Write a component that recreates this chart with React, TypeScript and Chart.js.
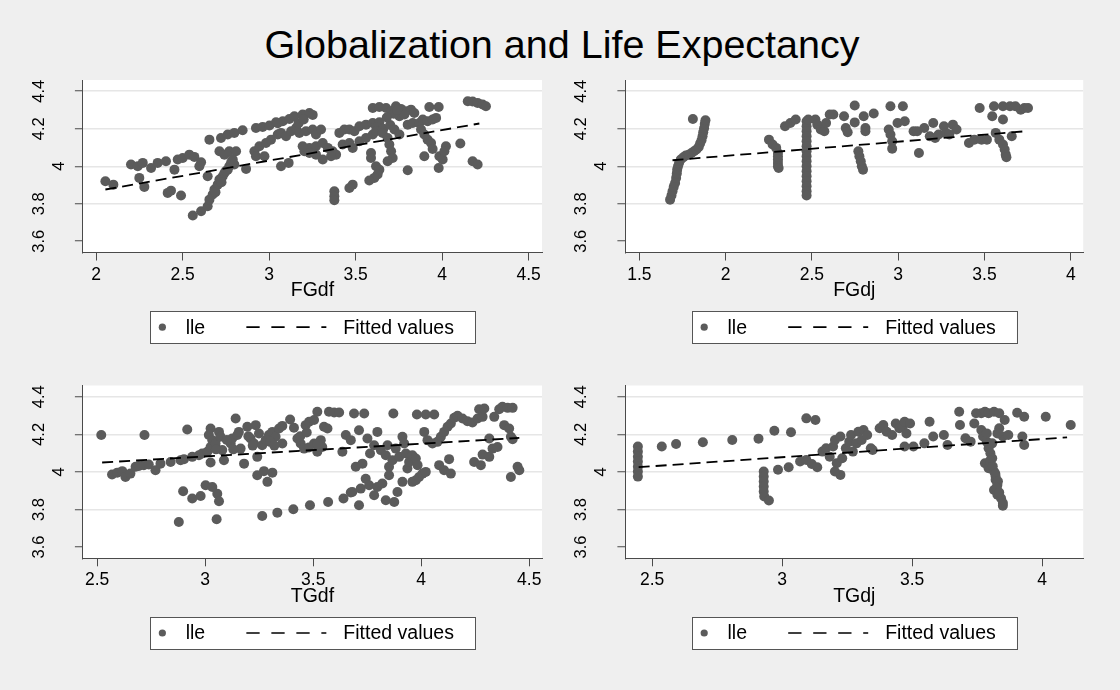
import React, { useEffect, useRef } from 'react';
import { Chart, registerables } from 'chart.js';

Chart.register(...registerables);

const FONT = "'Liberation Sans', Arial, Helvetica, sans-serif";
const PAGE_W = 1120;
const PAGE_H = 690;
const Y_AXIS_W = 60;
const X_AXIS_H = 60;
const MARKER = '#5b5b5b';
const AXIS_COLOR = '#4a4a4a';
const GRID_COLOR = '#e6e6e6';

const chartTitle = 'Globalization and Life Expectancy';
const seriesLabel = 'lle';
const fitLabel = 'Fitted values';

// lle vs FGdf
const fgdfPoints: [number, number][] = [
  [2.054, 3.92], [2.1, 3.902], [2.202, 4.009], [2.241, 4.0], [2.27, 4.018], [2.25, 3.938], [2.279, 3.89],
  [2.318, 3.991], [2.356, 4.018], [2.404, 4.027], [2.453, 3.982], [2.472, 4.036], [2.501, 4.044], [2.539, 4.062],
  [2.568, 4.05], [2.414, 3.858], [2.433, 3.87], [2.491, 3.844], [2.607, 4.021], [2.597, 4.0], [2.645, 3.947],
  [2.655, 4.142], [2.722, 4.151], [2.761, 4.169], [2.799, 4.178], [2.847, 4.192], [2.713, 4.08], [2.742, 4.062],
  [2.77, 4.08], [2.809, 4.08], [2.867, 3.986],
  [2.559, 3.737], [2.607, 3.76], [2.645, 3.787], [2.655, 3.822], [2.674, 3.849], [2.684, 3.876], [2.703, 3.902],
  [2.713, 3.929], [2.732, 3.947], [2.742, 3.964], [2.761, 3.982], [2.77, 4.0], [2.78, 4.018], [2.79, 4.036],
  [2.799, 4.009], [2.69, 3.862], [2.725, 3.915], [2.75, 3.975],
  [2.924, 4.204], [2.963, 4.21], [3.002, 4.217], [3.04, 4.235], [3.079, 4.24], [3.117, 4.252], [3.146, 4.267],
  [3.194, 4.276], [3.233, 4.284], [3.252, 4.274],
  [2.915, 4.08], [2.944, 4.107], [2.982, 4.124], [3.011, 4.142], [3.05, 4.169], [3.069, 4.178], [3.098, 4.16],
  [3.127, 4.187], [3.156, 4.204], [3.175, 4.178], [3.213, 4.187], [3.252, 4.196], [3.271, 4.169], [3.3, 4.196],
  [2.924, 4.053], [2.973, 4.053], [3.069, 4.0], [3.113, 4.018],
  [3.204, 4.08], [3.233, 4.098], [3.271, 4.107], [3.31, 4.124], [3.339, 4.098], [3.367, 4.08], [3.387, 4.062],
  [3.358, 4.053], [3.31, 4.036], [3.271, 4.062], [3.233, 4.071], [3.194, 4.107], [3.05, 4.23], [3.17, 4.23], [3.2, 4.25],
  [3.406, 4.178], [3.435, 4.196], [3.464, 4.196], [3.493, 4.187], [3.522, 4.213], [3.56, 4.222], [3.599, 4.231],
  [3.637, 4.235], [3.62, 4.21], [3.66, 4.2], [3.7, 4.22],
  [3.425, 4.116], [3.464, 4.124], [3.483, 4.098], [3.522, 4.133], [3.56, 4.151], [3.599, 4.169], [3.618, 4.187],
  [3.656, 4.178], [3.685, 4.151], [3.695, 4.116], [3.705, 4.08], [3.714, 4.044], [3.685, 4.027], [3.589, 4.071],
  [3.589, 4.044],
  [3.599, 4.311], [3.637, 4.316], [3.676, 4.311], [3.705, 4.293], [3.733, 4.32], [3.762, 4.306], [3.791, 4.293],
  [3.82, 4.302], [3.839, 4.284], [3.753, 4.267], [3.782, 4.276], [3.801, 4.222], [3.83, 4.231], [3.724, 4.196],
  [3.753, 4.169], [3.72, 4.28], [3.74, 4.3], [3.68, 4.26],
  [3.618, 4.0], [3.637, 3.982], [3.627, 3.956], [3.608, 3.938], [3.579, 3.924], [3.483, 3.902], [3.464, 3.884],
  [3.377, 3.867], [3.377, 3.84], [3.377, 3.819], [3.801, 3.979],
  [3.868, 4.231], [3.888, 4.249], [3.916, 4.24], [3.945, 4.249], [3.965, 4.258], [3.926, 4.316], [3.98, 4.316],
  [3.878, 4.196], [3.897, 4.169], [3.916, 4.142], [3.936, 4.124], [3.945, 4.092], [3.897, 4.053], [3.984, 4.053],
  [4.003, 4.036], [4.022, 4.107], [4.013, 4.08], [3.98, 3.991], [4.105, 4.121],
  [4.148, 4.347], [4.176, 4.345], [4.205, 4.338], [4.234, 4.329], [4.253, 4.32], [4.176, 4.027], [4.205, 4.009],
];
const fgdfFit: [number, number][] = [[2.054, 3.876], [4.215, 4.228]];

// lle vs FGdj
const fgdjPoints: [number, number][] = [
  [1.678, 3.822], [1.686, 3.844], [1.692, 3.867], [1.699, 3.89], [1.707, 3.911], [1.713, 3.938], [1.717, 3.961],
  [1.719, 3.982], [1.724, 4.0], [1.73, 4.018], [1.74, 4.036], [1.755, 4.048], [1.769, 4.057], [1.786, 4.062],
  [1.802, 4.071], [1.817, 4.08], [1.831, 4.089], [1.844, 4.103], [1.852, 4.121], [1.86, 4.139], [1.866, 4.16],
  [1.87, 4.181], [1.875, 4.203], [1.879, 4.226], [1.883, 4.245], [1.81, 4.252],
  [2.251, 4.142], [2.272, 4.116], [2.293, 4.098], [2.303, 4.071], [2.303, 4.053], [2.303, 4.036], [2.303, 4.018],
  [2.303, 4.0], [2.307, 3.991], [2.344, 4.213], [2.375, 4.231], [2.406, 4.249],
  [2.469, 4.24], [2.469, 4.213], [2.469, 4.187], [2.469, 4.16], [2.469, 4.133], [2.469, 4.107], [2.469, 4.08],
  [2.469, 4.053], [2.469, 4.027], [2.469, 4.0], [2.469, 3.973], [2.469, 3.947], [2.469, 3.92], [2.469, 3.893],
  [2.469, 3.867], [2.469, 3.844],
  [2.479, 4.249], [2.52, 4.249], [2.531, 4.222], [2.551, 4.196], [2.572, 4.187], [2.582, 4.231], [2.603, 4.276],
  [2.624, 4.276], [2.686, 4.267], [2.696, 4.204], [2.707, 4.181], [2.748, 4.324], [2.748, 4.234], [2.8, 4.267],
  [2.81, 4.204], [2.81, 4.187], [2.858, 4.281],
  [2.769, 4.08], [2.775, 4.053], [2.783, 4.027], [2.789, 4.0], [2.796, 3.982],
  [2.955, 4.32], [3.027, 4.32], [2.945, 4.196], [2.955, 4.169], [2.965, 4.133], [2.965, 4.094], [2.996, 4.231],
  [3.038, 4.24],
  [3.089, 4.187], [3.11, 4.187], [3.12, 4.071], [3.151, 4.204], [3.183, 4.16], [3.203, 4.231], [3.214, 4.151],
  [3.234, 4.169], [3.265, 4.213], [3.276, 4.178], [3.296, 4.169], [3.317, 4.222], [3.338, 4.196],
  [3.41, 4.124], [3.441, 4.142], [3.472, 4.311], [3.483, 4.142], [3.514, 4.142], [3.555, 4.32], [3.545, 4.267],
  [3.565, 4.178], [3.586, 4.142], [3.607, 4.116], [3.617, 4.089], [3.623, 4.062], [3.627, 4.048], [3.607, 4.249],
  [3.658, 4.16],
  [3.607, 4.32], [3.648, 4.32], [3.679, 4.32], [3.71, 4.302], [3.731, 4.311], [3.752, 4.311],
];
const fgdjFit: [number, number][] = [[1.692, 4.032], [3.741, 4.187]];

// lle vs TGdf
const tgdfPoints: [number, number][] = [
  [2.519, 4.196], [2.719, 4.196], [2.569, 3.986], [2.593, 3.996], [2.616, 4.004], [2.631, 3.973], [2.654, 3.991],
  [2.678, 4.027], [2.693, 4.032], [2.716, 4.036], [2.739, 4.039], [2.77, 4.009], [2.793, 4.044], [2.84, 4.053],
  [2.878, 3.733], [2.898, 3.897], [2.94, 3.858], [2.979, 3.872], [3.002, 3.929], [3.033, 3.92], [3.056, 3.884],
  [3.064, 3.844], [3.053, 3.748],
  [2.917, 4.226], [2.886, 4.062], [2.902, 4.068], [2.94, 4.08], [2.971, 4.089], [2.986, 4.098], [3.01, 4.107],
  [3.025, 4.133], [3.025, 4.231], [3.017, 4.196], [3.033, 4.169], [3.048, 4.151], [3.064, 4.213], [3.071, 4.187],
  [3.079, 4.116], [3.087, 4.062], [3.025, 4.05], [3.118, 4.151], [3.125, 4.178], [3.141, 4.284], [3.149, 4.196],
  [3.156, 4.213], [3.164, 4.124], [3.18, 4.044], [3.195, 4.24], [3.21, 4.178], [3.226, 4.151], [3.234, 4.249],
  [3.241, 4.08], [3.249, 4.204], [3.264, 4.142], [3.28, 4.169], [3.295, 4.196], [3.311, 4.213], [3.326, 4.187],
  [3.342, 4.231], [3.357, 4.151], [3.357, 4.245], [3.393, 4.279], [3.411, 4.235], [3.427, 4.178], [3.442, 4.151],
  [3.458, 4.124], [3.465, 4.249], [3.481, 4.267], [3.504, 4.276], [3.519, 4.32], [3.535, 4.169], [3.542, 4.133],
  [3.55, 4.24], [3.566, 4.231], [3.573, 4.32], [3.597, 4.316], [3.62, 4.316], [3.519, 4.107], [3.504, 4.151],
  [3.05, 4.12], [3.1, 4.17], [3.13, 4.12], [3.2, 4.19], [3.22, 4.14], [3.3, 4.16], [3.32, 4.14], [3.44, 4.19],
  [3.47, 4.21], [3.52, 4.15], [3.48, 4.13],
  [3.241, 3.982], [3.272, 4.004], [3.288, 3.947], [3.311, 3.996],
  [3.264, 3.765], [3.334, 3.783], [3.408, 3.801], [3.485, 3.822], [3.569, 3.84], [3.64, 3.858], [3.674, 3.89],
  [3.681, 3.893], [3.712, 3.822], [3.72, 3.911], [3.743, 3.964], [3.759, 3.929], [3.782, 3.876], [3.797, 3.92],
  [3.82, 3.938], [3.836, 3.849], [3.851, 3.982], [3.875, 3.84], [3.89, 3.893], [3.913, 3.947], [3.936, 4.018],
  [3.635, 4.107], [3.651, 4.196], [3.674, 4.169], [3.697, 4.027], [3.712, 4.222], [3.728, 4.044], [3.751, 4.178],
  [3.763, 4.098], [3.782, 4.142], [3.797, 4.213], [3.813, 4.116], [3.836, 4.089], [3.844, 4.142], [3.851, 4.027],
  [3.867, 4.062], [3.882, 4.124], [3.898, 4.08], [3.913, 4.187], [3.921, 4.151], [3.929, 4.098], [3.944, 4.053],
  [3.959, 4.089], [3.975, 4.071], [3.983, 4.036],
  [3.689, 4.311], [3.736, 4.311], [3.871, 4.311], [3.98, 4.306], [4.021, 4.306], [4.06, 4.306],
  [4.014, 4.213], [4.029, 4.169], [4.052, 4.151], [4.075, 4.16], [4.083, 4.036], [4.106, 4.009], [4.129, 4.068],
  [4.137, 3.991],
  [3.959, 3.947], [3.975, 3.956], [3.99, 3.973], [4.006, 3.991], [4.021, 4.0],
  [4.091, 4.187], [4.106, 4.213], [4.122, 4.24], [4.137, 4.258], [4.153, 4.288], [4.168, 4.299], [4.191, 4.284],
  [4.214, 4.27], [4.237, 4.263], [4.261, 4.284], [4.284, 4.293], [4.268, 4.334], [4.292, 4.338],
  [4.245, 4.053], [4.276, 4.036], [4.284, 4.092], [4.315, 4.08], [4.33, 4.124], [4.353, 4.133], [4.315, 4.178],
  [4.338, 4.293], [4.361, 4.334], [4.376, 4.347], [4.4, 4.341], [4.423, 4.341], [4.384, 4.249], [4.407, 4.231],
  [4.415, 4.187], [4.423, 4.174], [4.446, 4.027], [4.454, 4.009], [4.415, 3.973],
];
const tgdfFit: [number, number][] = [[2.523, 4.05], [4.454, 4.181]];

// lle vs TGdj
const tgdjPoints: [number, number][] = [
  [2.445, 4.135], [2.445, 4.108], [2.445, 4.081], [2.445, 4.055], [2.445, 4.028], [2.445, 4.002], [2.445, 3.975],
  [2.537, 4.135], [2.592, 4.149], [2.695, 4.158], [2.808, 4.17], [2.909, 4.177], [2.97, 4.219], [3.034, 4.211],
  [3.093, 4.285], [3.128, 4.276],
  [2.929, 4.002], [2.929, 3.975], [2.929, 3.949], [2.929, 3.922], [2.929, 3.896], [2.931, 3.869], [2.949, 3.848],
  [2.984, 4.011], [3.025, 4.025], [3.069, 4.055], [3.093, 4.064], [3.114, 4.042], [3.135, 4.025],
  [3.155, 4.108], [3.169, 4.126], [3.183, 4.081], [3.196, 4.135], [3.203, 4.17], [3.21, 4.046], [3.224, 4.188],
  [3.231, 4.073], [3.245, 4.126], [3.258, 4.161], [3.265, 4.196], [3.272, 4.108], [3.286, 4.152], [3.293, 4.214],
  [3.306, 4.17], [3.313, 4.223], [3.327, 4.196], [3.341, 4.126], [3.348, 4.117], [3.224, 3.984], [3.203, 4.002],
  [3.375, 4.232], [3.389, 4.25], [3.402, 4.214], [3.423, 4.196], [3.437, 4.258], [3.451, 4.232], [3.464, 4.241],
  [3.471, 4.267], [3.478, 4.205], [3.492, 4.258], [3.471, 4.135], [3.505, 4.135], [3.547, 4.152], [3.567, 4.267],
  [3.581, 4.188], [3.622, 4.196], [3.636, 4.143],
  [3.684, 4.25], [3.681, 4.32], [3.705, 4.179], [3.725, 4.161], [3.739, 4.258], [3.746, 4.312], [3.766, 4.312],
  [3.78, 4.32], [3.794, 4.312], [3.815, 4.32], [3.835, 4.312], [3.856, 4.276], [3.904, 4.315], [3.931, 4.294],
  [4.014, 4.294], [4.11, 4.25], [3.924, 4.188], [3.931, 4.143],
  [3.766, 4.223], [3.773, 4.188], [3.787, 4.161], [3.794, 4.126], [3.801, 4.099], [3.808, 4.073], [3.78, 4.046],
  [3.794, 4.019], [3.815, 4.002], [3.821, 3.975], [3.821, 3.958], [3.828, 3.931], [3.815, 3.904], [3.828, 3.878],
  [3.842, 3.86], [3.849, 3.834], [3.849, 3.82], [3.787, 4.205], [3.808, 4.152], [3.835, 4.232], [3.849, 4.188],
  [3.87, 4.196], [3.828, 4.205], [3.8, 4.06], [3.81, 4.03], [3.82, 3.99], [3.83, 3.95], [3.825, 3.915],
  [3.835, 3.89],
];
const tgdjFit: [number, number][] = [[2.448, 4.025], [4.096, 4.184]];

type Area = { left: number; top: number; right: number; bottom: number };
type PanelCfg = {
  axisTitle: string;
  points: [number, number][];
  fit: [number, number][];
  xMin: number;
  xMax: number;
  yMin: number;
  yMax: number;
  area: Area;
};

const panels: PanelCfg[] = [
  { axisTitle: 'FGdf', points: fgdfPoints, fit: fgdfFit, xMin: 1.924, xMax: 4.577, yMin: 3.54, yMax: 4.46,
    area: { left: 82.9, top: 80, right: 542, bottom: 252.5 } },
  { axisTitle: 'FGdj', points: fgdjPoints, fit: fgdjFit, xMin: 1.419, xMax: 4.072, yMin: 3.54, yMax: 4.46,
    area: { left: 625.4, top: 80, right: 1083.2, bottom: 252.5 } },
  { axisTitle: 'TGdf', points: tgdfPoints, fit: tgdfFit, xMin: 2.434, xMax: 4.559, yMin: 3.54, yMax: 4.46,
    area: { left: 82.9, top: 385.5, right: 542, bottom: 558.3 } },
  { axisTitle: 'TGdj', points: tgdjPoints, fit: tgdjFit, xMin: 2.397, xMax: 4.158, yMin: 3.54, yMax: 4.46,
    area: { left: 625.4, top: 385.5, right: 1083.2, bottom: 558.3 } },
];

const fmtTick = (v: any) => String(Math.round(Number(v) * 10) / 10);

const plotBackground = {
  id: 'plotBackground',
  beforeDraw(chart: any) {
    const { ctx, chartArea: a } = chart;
    ctx.save();
    ctx.fillStyle = '#ffffff';
    ctx.fillRect(a.left, a.top, a.right - a.left, a.bottom - a.top);
    ctx.restore();
  },
};

const stataLegend = {
  id: 'stataLegend',
  afterDraw(chart: any) {
    const { ctx, chartArea: a } = chart;
    const w = 325;
    const h = 32;
    const left = (a.left + a.right) / 2 - w / 2;
    const top = a.bottom + 58.7;
    const cy = top + h / 2;
    const pts = chart.data.datasets.find((d: any) => !d.showLine);
    const fit = chart.data.datasets.find((d: any) => d.showLine);
    ctx.save();
    ctx.fillStyle = '#ffffff';
    ctx.fillRect(left, top, w, h);
    ctx.strokeStyle = '#555555';
    ctx.lineWidth = 1;
    ctx.strokeRect(Math.round(left) + 0.5, Math.round(top) + 0.5, w, h);
    ctx.fillStyle = pts.backgroundColor;
    ctx.beginPath();
    ctx.arc(left + 12.4, cy, 3.6, 0, Math.PI * 2);
    ctx.fill();
    ctx.fillStyle = '#000000';
    ctx.font = `19.5px ${FONT}`;
    ctx.textBaseline = 'middle';
    ctx.textAlign = 'left';
    ctx.fillText(pts.label, left + 35.7, cy + 1);
    ctx.strokeStyle = '#000000';
    ctx.lineWidth = 1.7;
    ctx.setLineDash([13.3, 11.7]);
    ctx.beginPath();
    ctx.moveTo(left + 96.4, cy);
    ctx.lineTo(left + 176.4, cy);
    ctx.stroke();
    ctx.setLineDash([]);
    ctx.fillText(fit.label, left + 193.4, cy + 1);
    ctx.restore();
  },
};

function Panel({ cfg }: { cfg: PanelCfg }) {
  const ref = useRef<HTMLCanvasElement>(null);
  useEffect(() => {
    const canvas = ref.current;
    if (!canvas) return;
    const a = cfg.area;
    const chart = new Chart(canvas, {
      type: 'scatter',
      data: {
        datasets: [
          {
            label: fitLabel,
            data: cfg.fit.map(([x, y]) => ({ x, y })),
            showLine: true,
            borderColor: '#000000',
            backgroundColor: '#000000',
            borderWidth: 1.8,
            borderDash: [11, 6],
            pointRadius: 0,
            pointHoverRadius: 0,
            fill: false,
            order: 0,
          } as any,
          {
            label: seriesLabel,
            data: cfg.points.map(([x, y]) => ({ x, y })),
            backgroundColor: MARKER,
            borderColor: MARKER,
            borderWidth: 0,
            pointRadius: 5,
            pointHoverRadius: 5,
            order: 1,
          } as any,
        ],
      },
      options: {
        responsive: false,
        animation: false,
        devicePixelRatio: 1,
        events: [],
        layout: {
          padding: {
            left: a.left - Y_AXIS_W,
            top: a.top,
            right: PAGE_W - a.right,
            bottom: PAGE_H - a.bottom - X_AXIS_H,
          },
        },
        plugins: {
          legend: { display: false },
          tooltip: { enabled: false },
          title: { display: false },
        },
        scales: {
          x: {
            type: 'linear',
            position: 'bottom',
            min: cfg.xMin,
            max: cfg.xMax,
            ticks: {
              stepSize: 0.5,
              includeBounds: false,
              autoSkip: false,
              maxRotation: 0,
              minRotation: 0,
              padding: 3.8,
              color: '#000000',
              font: { family: FONT, size: 17.5 },
              callback: fmtTick,
            },
            grid: {
              drawOnChartArea: false,
              drawTicks: true,
              tickLength: 8,
              tickColor: AXIS_COLOR,
              tickWidth: 1,
            },
            border: { display: true, color: AXIS_COLOR, width: 1 },
            title: {
              display: true,
              text: cfg.axisTitle,
              color: '#000000',
              font: { family: FONT, size: 19.5 },
              padding: { top: 0, bottom: 10 },
            },
            afterFit: (s: any) => {
              s.height = X_AXIS_H;
              s.paddingLeft = 0;
              s.paddingRight = 0;
            },
          },
          y: {
            type: 'linear',
            position: 'left',
            min: cfg.yMin,
            max: cfg.yMax,
            ticks: {
              stepSize: 0.2,
              includeBounds: false,
              minRotation: 90,
              maxRotation: 90,
              crossAlign: 'center',
              padding: 24,
              color: '#000000',
              font: { family: FONT, size: 16.5 },
              callback: (v: any) => {
                const s = fmtTick(v);
                return Math.abs(Number(v) - 4) < 1e-9 ? ['', '', s] : s;
              },
            },
            grid: {
              drawOnChartArea: true,
              drawTicks: true,
              tickLength: 8,
              tickColor: AXIS_COLOR,
              tickWidth: 1,
              lineWidth: 1.5,
              color: (ctx: any) =>
                ctx.tick && Math.abs(ctx.tick.value - 3.6) < 1e-9 ? 'rgba(0,0,0,0)' : GRID_COLOR,
            },
            border: { display: true, color: AXIS_COLOR, width: 1 },
            afterFit: (s: any) => {
              s.width = Y_AXIS_W;
              s.paddingTop = 0;
              s.paddingBottom = 0;
            },
          },
        },
      } as any,
      plugins: [plotBackground, stataLegend],
    });
    return () => chart.destroy();
  }, [cfg]);
  return (
    <canvas
      ref={ref}
      width={PAGE_W}
      height={PAGE_H}
      style={{ position: 'absolute', left: 0, top: 0, width: PAGE_W, height: PAGE_H }}
    />
  );
}

export default function App() {
  return (
    <div
      style={{
        position: 'fixed',
        left: 0,
        top: 0,
        width: PAGE_W,
        height: PAGE_H,
        background: '#efefef',
        overflow: 'hidden',
      }}
    >
      <div
        style={{
          position: 'absolute',
          left: 2,
          top: 25,
          width: PAGE_W,
          textAlign: 'center',
          fontFamily: FONT,
          fontSize: 39.5,
          lineHeight: '39.5px',
          color: '#000000',
          whiteSpace: 'nowrap',
        }}
      >
        {chartTitle}
      </div>
      {panels.map((p) => (
        <Panel key={p.axisTitle} cfg={p} />
      ))}
    </div>
  );
}
